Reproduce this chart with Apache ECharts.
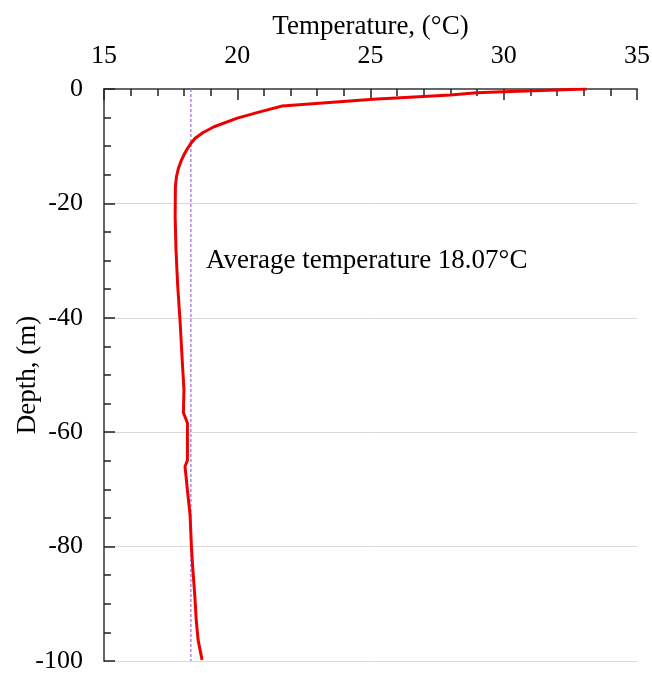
<!DOCTYPE html>
<html>
<head>
<meta charset="utf-8">
<script src="https://cdn.jsdelivr.net/npm/echarts@6/dist/echarts.min.js"></script>
<style>
html,body{margin:0;padding:0;background:#fff;}
#chart{width:652px;height:673px;}
</style>
</head>
<body>
<div id="chart"></div>
<script>
// Temperature profile (°C) vs depth (m)
var depths = [0, -0.47, -0.65, -1.05, -1.8, -2.97, -3.96, -5.1, -6.6, -7.6, -8.6, -9.5, -10.5, -11.5, -12.5, -13.9, -15.3, -17, -22.3, -28, -34, -41, -47, -52.6, -56.6, -58.4, -64.9, -66, -70.1, -74.5, -80, -83.7, -88.8, -92.8, -96.3, -99.8];
var temps  = [33.11, 29.98, 28.99, 28.0, 25.1, 21.69, 20.88, 20.0, 19.13, 18.72, 18.42, 18.26, 18.12, 18.0, 17.9, 17.79, 17.72, 17.68, 17.67, 17.70, 17.76, 17.86, 17.93, 18.0, 17.98, 18.13, 18.13, 18.04, 18.13, 18.23, 18.28, 18.33, 18.41, 18.46, 18.53, 18.68];
var avgLineTemp = 18.26;
var avgLineDepths = [0, -100];
var xTicks = [15, 20, 25, 30, 35];
var yTicks = [0, -20, -40, -60, -80, -100];
var annotationText = 'Average temperature 18.07\u00b0C';
var xTitle = 'Temperature, (\u00b0C)';
var yTitle = 'Depth, (m)';

var profile = depths.map(function (d, i) { return [temps[i], d]; });
var avgLine = avgLineDepths.map(function (d) { return [avgLineTemp, d]; });

var font = 'Liberation Serif';
var chart = echarts.init(document.getElementById('chart'));
chart.setOption({
  animation: false,
  backgroundColor: '#fff',
  grid: { left: 104, top: 89, right: 15, bottom: 12, containLabel: false, outerBoundsMode: 'none' },
  xAxis: {
    type: 'value',
    position: 'top',
    min: xTicks[0], max: xTicks[xTicks.length - 1], interval: 5,
    name: xTitle, nameLocation: 'middle', nameGap: 49, nameMoveOverlap: false,
    nameTextStyle: { fontFamily: font, fontSize: 27, color: '#000' },
    axisLine: { show: true, lineStyle: { color: '#666', width: 2 } },
    axisTick: { show: true, inside: true, length: 11, lineStyle: { color: '#222', width: 1.5 } },
    minorTick: { show: true, splitNumber: 5, length: 7, lineStyle: { color: '#222', width: 1.5 } },
    axisLabel: { fontFamily: font, fontSize: 26, color: '#000', margin: 20 },
    splitLine: { show: false }
  },
  yAxis: {
    type: 'value',
    min: yTicks[yTicks.length - 1], max: yTicks[0], interval: 20,
    name: yTitle, nameLocation: 'middle', nameGap: 63, nameRotate: 90, nameMoveOverlap: false,
    nameTextStyle: { fontFamily: font, fontSize: 27, color: '#000' },
    axisLine: { show: true, lineStyle: { color: '#666', width: 2 } },
    axisTick: { show: true, inside: true, length: 11, lineStyle: { color: '#222', width: 1.5 } },
    minorTick: { show: true, splitNumber: 4, length: 7, lineStyle: { color: '#222', width: 1.5 } },
    axisLabel: { fontFamily: font, fontSize: 26, color: '#000', margin: 21 },
    splitLine: { show: true, lineStyle: { color: '#d9d9d9', width: 1 } }
  },
  series: [
    {
      type: 'line', data: avgLine, symbol: 'none', silent: true,
      lineStyle: { color: '#a066d8', width: 1.2, type: [3, 2] }, z: 2
    },
    {
      type: 'line', data: profile, symbol: 'none', smooth: false,
      lineStyle: { color: '#ee0000', width: 3 }, z: 3
    }
  ],
  graphic: [
    {
      type: 'text', x: 206, y: 261,
      style: { text: annotationText, fontFamily: font, fontSize: 27, fill: '#000', textVerticalAlign: 'middle', verticalAlign: 'middle' }
    }
  ]
});
</script>
</body>
</html>
